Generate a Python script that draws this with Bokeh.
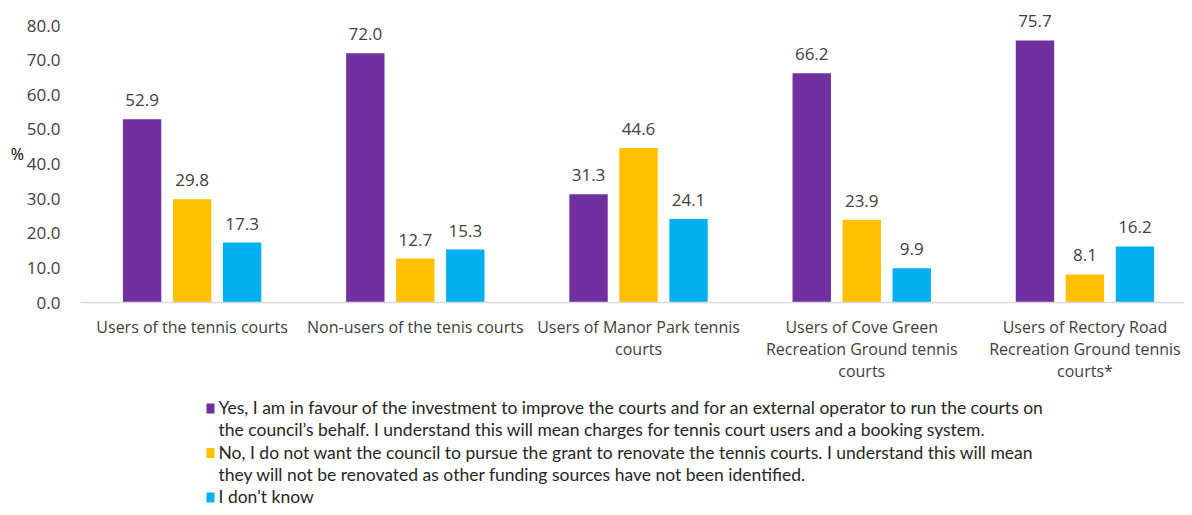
from bokeh.plotting import figure
from bokeh.layouts import column
from bokeh.models import (ColumnDataSource, Range1d, FixedTicker, NumeralTickFormatter)
from bokeh.transform import dodge
from bokeh.core.properties import value
from bokeh.embed import file_html
from bokeh.resources import INLINE

categories = [
    "Users of the tennis courts",
    "Non-users of the tenis courts",
    "Users of Manor Park tennis\ncourts",
    "Users of Cove Green\nRecreation Ground tennis\ncourts",
    "Users of Rectory Road\nRecreation Ground tennis\ncourts*",
]
yes_vals = [52.9, 72.0, 31.3, 66.2, 75.7]
no_vals = [29.8, 12.7, 44.6, 23.9, 8.1]
dk_vals = [17.3, 15.3, 24.1, 9.9, 16.2]
series_names = [
    ["Yes, I am in favour of the investment to improve the courts and for an external operator to run the courts on",
     "the council\u2019s behalf. I understand this will mean charges for tennis court users and a booking system."],
    ["No, I do not want the council to pursue the grant to renovate the tennis courts. I understand this will mean",
     "they will not be renovated as other funding sources have not been identified."],
    ["I don't know"],
]
colors = ["#7030A0", "#FFC000", "#00B0F0"]
y_ticks = [0, 10, 20, 30, 40, 50, 60, 70, 80]

FONT = "Open Sans"
LFONT = "Lato"
TXT = "#404040"

W = 1184
H_TOP, H_LEG = 392, 115

# category slots on a numeric axis (slot i centred at i + 0.5)
slot = [i + 0.5 for i in range(len(categories))]

src = ColumnDataSource(dict(
    x=slot, yes=yes_vals, no=no_vals, dk=dk_vals,
    yes_l=[f"{v:.1f}" for v in yes_vals],
    no_l=[f"{v:.1f}" for v in no_vals],
    dk_l=[f"{v:.1f}" for v in dk_vals],
))

p = figure(width=W, height=H_TOP, x_range=Range1d(0, 4.946),
           y_range=Range1d(0, 85.78), output_backend="svg", toolbar_location=None,
           min_border_left=80, min_border_right=0, min_border_top=5,
           min_border_bottom=H_TOP - 302)
p.outline_line_color = None
p.background_fill_color = "white"
p.border_fill_color = "white"
p.xgrid.grid_line_color = None
p.ygrid.grid_line_color = None

offsets = [-0.224, 0.0, 0.224]
keys = ["yes", "no", "dk"]
for off, key, col in zip(offsets, keys, colors):
    p.vbar(x=dodge("x", off), top=key, width=0.172, source=src,
           fill_color=col, line_color=None)
    p.text(x=dodge("x", off), y=key, text=key + "_l", source=src,
           text_align="center", text_baseline="alphabetic", y_offset=-19,
           text_font=value(FONT), text_font_size="17px", text_color=TXT)

p.yaxis.ticker = FixedTicker(ticks=y_ticks)
p.yaxis.formatter = NumeralTickFormatter(format="0.0")
p.yaxis.axis_line_color = None
p.yaxis.major_tick_line_color = None
p.yaxis.minor_tick_line_color = None
p.yaxis.major_label_text_font = FONT
p.yaxis.major_label_text_font_size = "17px"
p.yaxis.major_label_text_color = TXT
p.yaxis.major_label_standoff = 14
p.yaxis.axis_label = "%"
p.yaxis.axis_label_orientation = "horizontal"
p.yaxis.axis_label_text_font = FONT
p.yaxis.axis_label_text_font_style = "normal"
p.yaxis.axis_label_text_font_size = "16px"
p.yaxis.axis_label_text_color = "#000000"
p.yaxis.axis_label_standoff = 0

p.xaxis.ticker = FixedTicker(ticks=slot)
p.xaxis.major_label_overrides = {s: c for s, c in zip(slot, categories)}
p.xaxis.axis_line_color = "#D9D9D9"
p.xaxis.axis_line_width = 1.5
p.xaxis.major_tick_line_color = None
p.xaxis.minor_tick_line_color = None
p.xaxis.major_label_text_font = FONT
p.xaxis.major_label_text_font_size = "16px"
p.xaxis.major_label_text_color = TXT
p.xaxis.major_label_text_line_height = 1.0
p.xaxis.major_label_standoff = 7
p.xaxis.major_label_orientation = "horizontal"

# ---- legend panel (pixel-mapped coordinates, y down from top) ----
leg = figure(width=W, height=H_LEG, x_range=Range1d(80, W), y_range=Range1d(H_LEG, 0),
             output_backend="svg", toolbar_location=None,
             min_border=0, min_border_left=0, min_border_right=0,
             min_border_top=0, min_border_bottom=0)
leg.axis.visible = False
leg.grid.visible = False
leg.outline_line_color = None
leg.border_fill_color = "white"

LINE_H = 22.25
TOP_Y = 15
TEXT_X = 218
SQ_X = 210
lx, ly, lt, sx, sy, sc = [], [], [], [], [], []
row = 0
for name_lines, col in zip(series_names, colors):
    sx.append(SQ_X); sy.append(TOP_Y + row * LINE_H + 1); sc.append(col)
    for ln in name_lines:
        lx.append(TEXT_X); ly.append(TOP_Y + row * LINE_H); lt.append(ln)
        row += 1
leg.rect(x=sx, y=sy, width=8, height=10, fill_color=sc, line_color=None)
leg.text(x=lx, y=ly, text=lt, text_baseline="middle", text_align="left",
         text_font=value(LFONT), text_font_size="17.5px", text_color="#262626")

layout = column(p, leg, spacing=0)
open("out.html", "w").write(file_html(layout, INLINE))
